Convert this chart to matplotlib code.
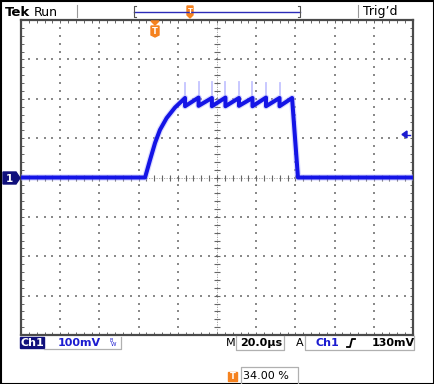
import numpy as np
import matplotlib
matplotlib.use('Agg')
import matplotlib.pyplot as plt
from matplotlib.patches import Rectangle, Polygon
from matplotlib.ticker import MultipleLocator

# scope screen: 10 div x 20us, 8 div x 100mV, ground at centre
# time in us from left edge of screen, level in mV
rise_t = [0.0, 63.3, 65.8, 68.4, 70.9, 74.3, 78.6, 83.7]
rise_v = [0, 0, 44, 88, 121, 151, 178, 202]
drop_t = [83.7, 90.6, 97.4, 104.3, 111.2, 118.1, 125.0, 131.9]
peak_v = [202, 203, 202, 203, 202, 202, 203, 202]
trough_v = [181, 182, 181, 181, 182, 181, 181, 181]
spike_v = [240, 242, 243, 242, 243, 242, 241, 240]
fall_t = [138.3, 141.3, 200.0]
fall_v = [202, 0, 0]

W, H = 435, 384
NAVY = '#10107c'
BLUE = '#1c1cd0'
TRACE = '#1414e6'
ORANGE = '#f5821f'


def px(x, y):
    return x / W, 1 - y / H


# build the trace polyline from the readings
t = list(rise_t)
v = list(rise_v)
for i, td in enumerate(drop_t):
    t.append(td)
    v.append(trough_v[i])
    nxt = drop_t[i + 1] if i + 1 < len(drop_t) else fall_t[0]
    t.append(nxt)
    v.append(peak_v[i + 1] if i + 1 < len(peak_v) else fall_v[0])
t += fall_t[1:]
v += fall_v[1:]

fig = plt.figure(figsize=(W / 100, H / 100), dpi=100)
fig.patch.set_facecolor('white')

ax = fig.add_axes([21 / W, 1 - 335 / H, 392 / W, 315 / H])
ax.set_xlim(0, 200)
ax.set_ylim(-400, 400)
ax.set_facecolor('white')

# graticule dots
for k in range(1, 10):
    if k == 5:
        continue
    yy = np.arange(-400, 401, 20)
    ax.scatter(np.full(len(yy), k * 20), yy, s=0.6, marker='s', color='#8a8a8a', linewidths=0, zorder=1)
for k in range(-3, 4):
    if k == 0:
        continue
    xx = np.arange(0, 201, 4)
    ax.scatter(xx, np.full(len(xx), k * 100), s=0.6, marker='s', color='#8a8a8a', linewidths=0, zorder=1)

# centre crosshair with minor ticks
ax.axvline(100, color='#999999', lw=0.6, ls=(0, (1.5, 1.5)), zorder=1)
ax.axhline(0, color='#999999', lw=0.6, ls=(0, (1.5, 1.5)), zorder=1)
yy = np.arange(-400, 401, 20)
ax.plot(np.full(len(yy), 100), yy, ls='none', marker='_', ms=4, mew=0.8, color='#666666', zorder=1)
xx = np.arange(0, 201, 4)
ax.plot(xx, np.zeros(len(xx)), ls='none', marker='|', ms=4, mew=0.8, color='#666666', zorder=1)

ax.xaxis.set_major_locator(MultipleLocator(20))
ax.xaxis.set_minor_locator(MultipleLocator(4))
ax.yaxis.set_major_locator(MultipleLocator(100))
ax.yaxis.set_minor_locator(MultipleLocator(20))
ax.tick_params(which='both', direction='in', length=2.5, width=0.7, color='#666666',
               top=True, right=True, labelbottom=False, labelleft=False)
for s in ax.spines.values():
    s.set_color('#4a4a4a')
    s.set_linewidth(1.6)

# trace: halo, spikes, core
ax.plot(t, v, color='#b8b8ff', lw=4.6, alpha=0.5, solid_joinstyle='round', zorder=3)
for i, td in enumerate(drop_t):
    ax.plot([td, td], [peak_v[i], spike_v[i]], color='#c4c4ff', lw=1.3, zorder=3)
ax.plot(t, v, color=TRACE, lw=2.9, solid_joinstyle='round', zorder=4)

# ground marker "1"
gx = [3, 16, 20, 16, 3]
gy = [172, 172, 178, 184, 184]
fig.patches.append(Polygon([px(a, b) for a, b in zip(gx, gy)], closed=True,
                           transform=fig.transFigure, color=NAVY))
fig.text(*px(9.5, 178.5), '1', color='white', fontsize=7.5, fontweight='bold', ha='center', va='center')

# trigger level arrow (right edge)
fig.patches.append(Polygon([px(402, 134.5), px(407, 131), px(407, 138)], closed=True,
                           transform=fig.transFigure, color=BLUE))
fig.lines.append(plt.Line2D([407 / W, 410 / W], [1 - 134.5 / H] * 2, transform=fig.transFigure,
                            color=BLUE, lw=1))

# trigger position marker on graticule top
fig.patches.append(Polygon([px(151, 21), px(159, 21), px(155, 25)], closed=True,
                           transform=fig.transFigure, color=ORANGE))
fig.patches.append(Polygon([px(151, 26), px(159, 26), px(159, 35), px(155, 37), px(151, 35)], closed=True,
                           transform=fig.transFigure, color=ORANGE))
fig.text(*px(155, 31), 'T', color='white', fontsize=6, fontweight='bold', ha='center', va='center')

# header
fig.text(*px(5, 12), 'Tek', fontsize=9.5, fontweight='bold', ha='left', va='center')
fig.text(*px(34, 12), 'Run', fontsize=9, ha='left', va='center')
fig.text(*px(363, 12), "Trig\u2019d", fontsize=9, ha='left', va='center')
for sx in (77, 358):
    fig.lines.append(plt.Line2D([sx / W] * 2, [1 - 5 / H, 1 - 17 / H], transform=fig.transFigure,
                                color='#999999', lw=0.8))
fig.lines.append(plt.Line2D([134 / W, 300 / W], [1 - 12 / H] * 2, transform=fig.transFigure,
                            color='#2b2bb8', lw=1.0))
for bx, d in ((134, 1), (300, -1)):
    fig.lines.append(plt.Line2D([(bx + 2 * d) / W, bx / W, bx / W, (bx + 2 * d) / W],
                                [1 - 6 / H, 1 - 6 / H, 1 - 17 / H, 1 - 17 / H],
                                transform=fig.transFigure, color='#555555', lw=0.8))
fig.patches.append(Polygon([px(187, 6), px(193, 6), px(193, 15), px(190, 18), px(187, 15)], closed=True,
                           transform=fig.transFigure, color=ORANGE))
fig.text(*px(190, 11), 'T', color='white', fontsize=5, fontweight='bold', ha='center', va='center')

# bottom readouts
fig.patches.append(Rectangle(px(20, 348), 24 / W, 11 / H, transform=fig.transFigure, color=NAVY))
fig.text(*px(32, 342.5), 'Ch1', color='white', fontsize=8, fontweight='bold', ha='center', va='center')


def box(x0, x1, y0, y1, left=True):
    xs = [x0, x0, x1, x1] if left else [x0, x1, x1]
    ys = [y0, y1, y1, y0] if left else [y1, y1, y0]
    fig.lines.append(plt.Line2D([a / W for a in xs], [1 - b / H for b in ys],
                                transform=fig.transFigure, color='#b0b0b0', lw=0.9))


box(44, 121, 337, 349, left=False)
fig.text(*px(58, 342.5), '100mV', color=BLUE, fontsize=8, fontweight='bold', ha='left', va='center')
fig.text(*px(111, 340), 'B', color=BLUE, fontsize=3.5, ha='center', va='center')
fig.text(*px(114, 344), 'W', color=BLUE, fontsize=4, ha='center', va='center')

fig.text(*px(226, 342.5), 'M', fontsize=8, ha='left', va='center')
box(236.5, 284, 336, 350)
fig.text(*px(240, 342.5), '20.0\u00b5s', fontsize=8, fontweight='bold', ha='left', va='center')
fig.text(*px(296, 342.5), 'A', fontsize=8, ha='left', va='center')
box(305, 414, 336, 350)
fig.text(*px(316, 342.5), 'Ch1', color=BLUE, fontsize=8, fontweight='bold', ha='left', va='center')
fig.lines.append(plt.Line2D([347 / W, 350 / W, 352 / W, 355 / W],
                            [1 - 347 / H, 1 - 347 / H, 1 - 339 / H, 1 - 339 / H],
                            transform=fig.transFigure, color='black', lw=1.3))
fig.text(*px(372, 342.5), '130mV', fontsize=8, fontweight='bold', ha='left', va='center')

fig.patches.append(Rectangle(px(228, 381), 9 / W, 9 / H, transform=fig.transFigure, color=ORANGE))
fig.text(*px(232.5, 376.5), 'T', color='white', fontsize=6, fontweight='bold', ha='center', va='center')
box(241, 298, 383, 367)
fig.text(*px(243, 376), '34.00 %', fontsize=8, ha='left', va='center')

# outer frame
fig.patches.append(Rectangle((0.5 / W, 0.5 / H), 1 - 1.5 / W, 1 - 1.5 / H, transform=fig.transFigure,
                             fill=False, edgecolor='black', lw=1.5))

fig.savefig('out.png', dpi=100)
